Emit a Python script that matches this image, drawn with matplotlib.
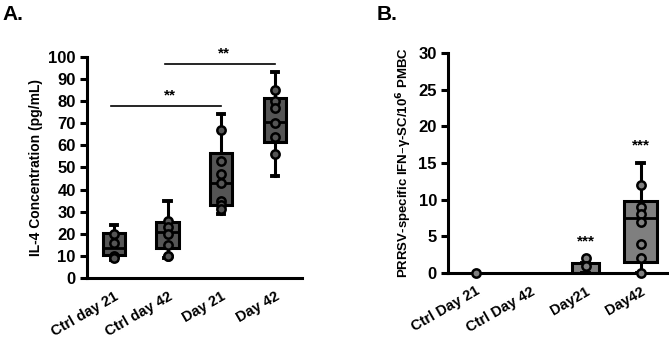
import matplotlib.pyplot as plt

plt.rcParams['font.family'] = ['Liberation Sans', 'DejaVu Sans']
plt.rcParams['font.weight'] = 'bold'

# panel A - IL-4
groups_a = ['Ctrl day 21', 'Ctrl day 42', 'Day 21', 'Day 42']
q1_a = [10.5, 13.5, 33, 61.5]
med_a = [13.5, 21, 43, 70.5]
q3_a = [20.5, 25.5, 56.5, 81.5]
lo_a = [8, 9, 29, 46]
hi_a = [24, 35, 74, 93]
pts_a = [
    [20, 16, 10, 9],
    [26, 23, 20, 15, 10, 10],
    [67, 53, 47, 43, 35, 33, 31],
    [85, 80, 77, 70, 64, 56],
]

# panel B - IFN-gamma SC
groups_b = ['Ctrl Day 21', 'Ctrl Day 42', 'Day21', 'Day42']
q1_b = [0, 0, 0, 1.5]
med_b = [0, 0, 0, 7.5]
q3_b = [0, 0, 1.3, 9.8]
lo_b = [0, 0, 0, 0]
hi_b = [0, 0, 1.3, 15]
pts_b = [
    [0],
    [],
    [2, 1],
    [12, 9, 8, 7, 4, 2, 0],
]


def draw_boxes(ax, q1, med, q3, lo, hi, pts, color, widths, show):
    stats = []
    for i in range(len(q1)):
        stats.append({'q1': q1[i], 'med': med[i], 'q3': q3[i],
                      'whislo': lo[i], 'whishi': hi[i], 'fliers': []})
    keep = [i for i in range(len(stats)) if show[i]]
    ax.bxp([stats[i] for i in keep], positions=[i + 1 for i in keep],
           widths=[widths[i] for i in keep], patch_artist=True,
           showfliers=False, zorder=2,
           boxprops=dict(facecolor=color, edgecolor='black', linewidth=2.2),
           medianprops=dict(color='black', linewidth=2),
           whiskerprops=dict(color='black', linewidth=2.2),
           capprops=dict(color='black', linewidth=2.8),
           capwidths=0.12)
    for i, p in enumerate(pts):
        ax.plot([i + 1] * len(p), p, 'o', ms=6, mfc=color, mec='black',
                mew=1.8, zorder=3, clip_on=False)


def style(ax, labels):
    for s in ['top', 'right']:
        ax.spines[s].set_visible(False)
    ax.spines['left'].set_linewidth(2.2)
    ax.spines['bottom'].set_linewidth(2.2)
    ax.set_xlim(0.5, 4.5)
    ax.set_xticks(range(1, 5))
    ax.set_xticklabels(labels, rotation=30, ha='right', rotation_mode='anchor',
                       fontsize=10.5, fontweight='bold')
    ax.tick_params(axis='x', length=0, pad=8)
    ax.tick_params(axis='y', width=2.2, length=5, labelsize=12, pad=3)


fig = plt.figure(figsize=(6.69, 3.38), dpi=100)

ax1 = fig.add_axes([0.130, 0.1775, 0.321, 0.654])
draw_boxes(ax1, q1_a, med_a, q3_a, lo_a, hi_a, pts_a, '#555555',
           [0.41] * 4, [True] * 4)
style(ax1, groups_a)
ax1.set_ylim(0, 100)
ax1.set_yticks(range(0, 101, 10))
ax1.set_ylabel('IL-4 Concentration (pg/mL)', fontsize=10, fontweight='bold',
               labelpad=4)
ax1.plot([0.95, 3.0], [78, 78], color='black', lw=1.2, clip_on=False)
ax1.text(2.05, 79.5, '**', ha='center', va='bottom', fontsize=11)
ax1.plot([1.95, 4.0], [97, 97], color='black', lw=1.2, clip_on=False)
ax1.text(3.05, 98.5, '**', ha='center', va='bottom', fontsize=11)

ax2 = fig.add_axes([0.6697, 0.1923, 0.329, 0.651])
draw_boxes(ax2, q1_b, med_b, q3_b, lo_b, hi_b, pts_b, '#7f7f7f',
           [0.5, 0.5, 0.5, 0.6], [False, False, True, True])
style(ax2, groups_b)
ax2.set_ylim(0, 30)
ax2.set_yticks(range(0, 31, 5))
ax2.set_ylabel('PRRSV-specific IFN\u2013\u03b3-SC/10$^{\\mathbf{6}}$ PMBC',
               fontsize=9.5, fontweight='bold', labelpad=3)
ax2.text(3, 3.3, '***', ha='center', va='bottom', fontsize=11)
ax2.text(4, 16.5, '***', ha='center', va='bottom', fontsize=11)

fig.text(0.003, 0.985, 'A.', fontsize=15, fontweight='bold', va='top')
fig.text(0.563, 0.985, 'B.', fontsize=15, fontweight='bold', va='top')

fig.savefig('out.png', dpi=100)
